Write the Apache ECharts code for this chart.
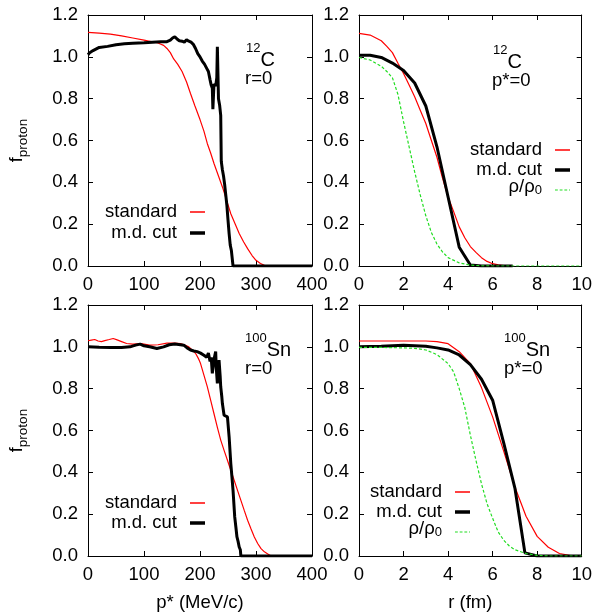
<!DOCTYPE html>
<html>
<head>
<meta charset="utf-8">
<script src="https://cdn.jsdelivr.net/npm/echarts@6/dist/echarts.min.js"></script>
<style>
html, body { margin: 0; padding: 0; background: #fff; }
#data_show { width: 595px; height: 616px; }
</style>
</head>
<body>
<div id="data_show"></div>
<script>
// tick values
var f_ticks = [0, 0.2, 0.4, 0.6, 0.8, 1.0, 1.2];
var p_ticks = [0, 100, 200, 300, 400];
var r_ticks = [0, 2, 4, 6, 8, 10];

// 12C, r=0 : f vs p* (MeV/c)
var c12_p_standard = [[0,1.117],[20,1.113],[40,1.109],[60,1.1],[80,1.09],[100,1.08],[115,1.072],[125,1.066],[135,1.055],[141,1.04],[147,1.02],[153,0.99],[160,0.965],[168,0.93],[176,0.88],[183,0.825],[191,0.765],[200,0.7],[207,0.645],[213,0.586],[219,0.54],[225,0.49],[233,0.43],[240,0.378],[248,0.31],[255,0.25],[263,0.2],[270,0.155],[278,0.115],[285,0.083],[293,0.05],[300,0.027],[308,0.012],[315,0.003],[320,0],[400,0]];
var c12_p_cut = [[0,1.01],[3,1.02],[9,1.03],[20,1.045],[35,1.05],[50,1.058],[65,1.062],[80,1.065],[100,1.067],[115,1.07],[130,1.072],[140,1.072],[147,1.08],[151,1.09],[155,1.096],[159,1.085],[163,1.077],[168,1.075],[172,1.07],[176,1.082],[180,1.075],[184,1.07],[188,1.06],[192,1.04],[196,1.015],[200,1.0],[204,0.98],[208,0.965],[212,0.945],[215,0.93],[218,0.89],[220,0.865],[222,0.85],[223,0.75],[225,0.87],[228,0.86],[230,0.9],[231,1.048],[233,0.8],[235,0.77],[237,0.72],[238,0.5],[240,0.46],[242,0.43],[244,0.39],[246,0.34],[248,0.29],[250,0.22],[252,0.155],[254,0.1],[256,0.075],[258,0.07],[259,0],[400,0]];

// 12C, p*=0 : f vs r (fm)
var c12_r_standard = [[0,1.112],[0.5,1.104],[1.0,1.077],[1.25,1.05],[1.5,1.02],[1.75,0.969],[2.0,0.92],[2.25,0.865],[2.5,0.809],[2.75,0.745],[3.0,0.681],[3.25,0.6],[3.5,0.52],[3.75,0.42],[4.0,0.33],[4.25,0.26],[4.5,0.187],[4.75,0.135],[5.0,0.093],[5.25,0.065],[5.5,0.04],[5.75,0.022],[6.0,0.011],[6.25,0.005],[6.5,0.002],[6.9,0]];
var c12_r_cut = [[0,1.008],[0.5,1.008],[1.0,0.997],[1.5,0.97],[2.0,0.935],[2.5,0.875],[3.0,0.765],[3.5,0.57],[4.0,0.33],[4.5,0.09],[5.0,0.005],[5.5,0],[6.9,0]];
var c12_r_rho = [[0,0.997],[0.5,0.985],[1.0,0.955],[1.25,0.93],[1.5,0.9],[1.75,0.82],[2.0,0.69],[2.25,0.57],[2.5,0.45],[2.75,0.34],[3.0,0.24],[3.25,0.16],[3.5,0.105],[3.75,0.067],[4.0,0.04],[4.5,0.015],[5.0,0.004],[5.5,0.001],[6,0],[10,0]];

// 100Sn, r=0 : f vs p* (MeV/c)
var sn_p_standard = [[0,1.029],[6,1.032],[12,1.035],[18,1.028],[24,1.025],[30,1.03],[38,1.035],[45,1.04],[52,1.033],[60,1.025],[69,1.016],[80,1.013],[95,1.015],[110,1.008],[125,1.01],[141,1.018],[155,1.018],[165,1.016],[173,1.008],[180,1.0],[186,0.985],[192,0.969],[197,0.945],[201,0.92],[207,0.865],[213,0.81],[219,0.745],[225,0.68],[231,0.615],[237,0.554],[243,0.505],[249,0.458],[255,0.41],[261,0.362],[267,0.314],[273,0.266],[279,0.218],[285,0.171],[291,0.13],[297,0.091],[303,0.06],[309,0.035],[315,0.02],[321,0.01],[327,0],[400,0]];
var sn_p_cut = [[0,1.0],[20,0.998],[40,0.997],[60,0.997],[75,1.0],[85,1.008],[93,1.013],[100,1.005],[110,1.0],[123,0.992],[135,1.0],[145,1.01],[155,1.013],[165,1.01],[171,1.008],[177,0.995],[183,0.985],[189,0.98],[195,0.977],[201,0.97],[207,0.96],[212,0.95],[215,0.97],[218,0.93],[220,0.95],[222,0.873],[225,0.94],[228,0.977],[229,0.9],[231,0.825],[233,0.88],[234,0.937],[236,0.86],[237,0.809],[239,0.76],[240,0.729],[243,0.673],[246,0.67],[249,0.665],[252,0.57],[255,0.442],[257,0.38],[259,0.314],[262,0.187],[264,0.14],[266,0.091],[268,0.07],[270,0.043],[272,0.03],[273,0],[400,0]];

// 100Sn, p*=0 : f vs r (fm)
var sn_r_standard = [[0,1.028],[1,1.028],[2,1.028],[3,1.028],[3.5,1.025],[4.0,1.015],[4.5,0.977],[5.0,0.92],[5.5,0.805],[6.0,0.665],[6.5,0.5],[7.0,0.33],[7.5,0.19],[8.0,0.094],[8.5,0.042],[9.0,0.012],[9.5,0.002],[10,0]];
var sn_r_cut = [[0,1.0],[1,1.003],[2,1.008],[3,1.003],[3.5,0.995],[4,0.985],[4.5,0.961],[5,0.915],[5.5,0.845],[6,0.745],[6.5,0.54],[7,0.325],[7.45,0.015],[7.5,0.01],[8,0],[10,0]];
var sn_r_rho = [[0,0.997],[1,0.997],[2,0.995],[2.5,0.993],[3,0.985],[3.5,0.963],[4,0.92],[4.25,0.88],[4.5,0.8],[4.75,0.71],[5,0.578],[5.25,0.458],[5.5,0.345],[5.75,0.25],[6,0.18],[6.25,0.115],[6.5,0.075],[6.75,0.048],[7,0.03],[7.5,0.012],[8,0.003],[8.5,0],[10,0]];

var font = 'Liberation Sans';
var fsize = 18.5;
var panels = [
	{ left: 88, top: 15, ticks: p_ticks, xname: '' },
	{ left: 359, top: 15, ticks: r_ticks, xname: '' },
	{ left: 88, top: 305, ticks: p_ticks, xname: 'p* (MeV/c)' },
	{ left: 359, top: 305, ticks: r_ticks, xname: 'r (fm)' }
];

var grids = [], xAxes = [], yAxes = [];
panels.forEach(function(pn, i){
	grids.push({ left: pn.left, top: pn.top, width: 224, height: 251 });
	var base_line = { show: true, onZero: false, lineStyle: { color: '#000', width: 1 } };
	var base_tick = { show: true, inside: true, length: 5, lineStyle: { color: '#000' } };
	var xmin = pn.ticks[0], xmax = pn.ticks[pn.ticks.length - 1];
	xAxes.push({
		gridIndex: i, type: 'value', position: 'bottom',
		min: xmin, max: xmax, interval: pn.ticks[1] - pn.ticks[0],
		axisLine: base_line, axisTick: base_tick, splitLine: { show: false },
		axisLabel: { color: '#000', fontFamily: font, fontSize: fsize, margin: 9 },
		name: pn.xname, nameLocation: 'middle', nameGap: 37,
		nameTextStyle: { color: '#000', fontFamily: font, fontSize: fsize }
	});
	xAxes.push({
		gridIndex: i, type: 'value', position: 'top',
		min: xmin, max: xmax, interval: pn.ticks[1] - pn.ticks[0],
		axisLine: base_line, axisTick: base_tick, splitLine: { show: false },
		axisLabel: { show: false }
	});
	yAxes.push({
		gridIndex: i, type: 'value', position: 'left',
		min: f_ticks[0], max: f_ticks[f_ticks.length - 1], interval: 0.2,
		axisLine: base_line, axisTick: base_tick, splitLine: { show: false },
		axisLabel: { color: '#000', fontFamily: font, fontSize: fsize, margin: 10,
			formatter: function(v){ return v.toFixed(1); } },
		name: i % 2 == 0 ? '{f|f}{p|proton}' : '', nameLocation: 'middle', nameGap: 50,
		nameTextStyle: { color: '#000', fontFamily: font,
			rich: {
				f: { fontSize: 18, lineHeight: 18, verticalAlign: 'top', fontFamily: font, color: '#000' },
				p: { fontSize: 13.5, lineHeight: 30, verticalAlign: 'middle', fontFamily: font, color: '#000' }
			}
		}
	});
	yAxes.push({
		gridIndex: i, type: 'value', position: 'right',
		min: f_ticks[0], max: f_ticks[f_ticks.length - 1], interval: 0.2,
		axisLine: base_line, axisTick: base_tick, splitLine: { show: false },
		axisLabel: { show: false }
	});
});

function make_series(name, data, i){
	var s = {
		name: name, type: 'line', data: data, symbol: 'none',
		xAxisIndex: 2 * i, yAxisIndex: 2 * i, animation: false
	};
	if(name == 'standard'){
		s.lineStyle = { color: '#ff0000', width: 1.2 };
		s.itemStyle = { color: '#ff0000' };
	}else if(name == 'm.d. cut'){
		s.lineStyle = { color: '#000000', width: 3 };
		s.itemStyle = { color: '#000000' };
	}else{
		s.lineStyle = { color: '#22dd22', width: 1.2, type: [3, 2] };
		s.itemStyle = { color: '#22dd22' };
	}
	return s;
}

var series = [
	make_series('standard', c12_p_standard, 0),
	make_series('m.d. cut', c12_p_cut, 0),
	make_series('standard', c12_r_standard, 1),
	make_series('m.d. cut', c12_r_cut, 1),
	make_series('ρ/ρ0', c12_r_rho, 1),
	make_series('standard', sn_p_standard, 2),
	make_series('m.d. cut', sn_p_cut, 2),
	make_series('standard', sn_r_standard, 3),
	make_series('m.d. cut', sn_r_cut, 3),
	make_series('ρ/ρ0', sn_r_rho, 3)
];

// one legend per entry so that every text is right aligned against its sample
var legend_icon = {
	'standard': { icon: 'rect', h: 1.5 },
	'm.d. cut': { icon: 'rect', h: 3.5 },
	'ρ/ρ0': { icon: 'path://M0,0h3v1h-3z M5,0h3v1h-3z M10,0h3v1h-3z M15,0h1v1h-1z', h: 1.5 }
};
function legend_item(name, right, top){
	return {
		data: [{ name: name, icon: legend_icon[name].icon }],
		right: right, top: top, orient: 'vertical', align: 'right',
		itemWidth: 15, itemHeight: legend_icon[name].h, padding: 0, selectedMode: false,
		textStyle: {
			color: '#000', fontFamily: font, fontSize: fsize, lineHeight: 20, padding: [0, 8, 0, 0],
			rich: {
				a: { fontSize: fsize, lineHeight: 16, verticalAlign: 'top', fontFamily: font, color: '#000' },
				b: { fontSize: 13, lineHeight: 26, verticalAlign: 'middle', fontFamily: font, color: '#000' }
			}
		},
		formatter: function(n){
			if(n == 'ρ/ρ0') return '{a|ρ/ρ}{b|0}';
			return n;
		}
	};
}

var legends = [
	legend_item('standard', 390, 202),
	legend_item('m.d. cut', 390, 223),
	legend_item('standard', 25, 140),
	legend_item('m.d. cut', 25, 160),
	legend_item('ρ/ρ0', 25, 177),
	legend_item('standard', 390, 493),
	legend_item('m.d. cut', 390, 513),
	legend_item('standard', 125, 482),
	legend_item('m.d. cut', 125, 502),
	legend_item('ρ/ρ0', 125, 519)
];

function label(text, left, top){
	return {
		text: text, left: left, top: top, padding: 0,
		textStyle: {
			color: '#000', fontFamily: font, fontSize: fsize, fontWeight: 'normal', lineHeight: 20,
			rich: {
				s: { fontSize: 13, lineHeight: 12, verticalAlign: 'top', fontFamily: font, color: '#000' },
				m: { fontSize: 20, lineHeight: 28, verticalAlign: 'bottom', fontFamily: font, color: '#000' }
			}
		}
	};
}

var titles = [
	label('{s|12}{m|C}', 246, 42),
	label('r=0', 245, 69),
	label('{s|12}{m|C}', 493, 44),
	label('p*=0', 492, 71),
	label('{s|100}{m|Sn}', 245, 332),
	label('r=0', 245, 359),
	label('{s|100}{m|Sn}', 504, 332),
	label('p*=0', 504, 359)
];

var chart = echarts.init(document.getElementById('data_show'));
var option = {
	backgroundColor: '#fff',
	animation: false,
	title: titles,
	legend: legends,
	grid: grids,
	xAxis: xAxes,
	yAxis: yAxes,
	series: series
};
chart.setOption(option);
</script>
</body>
</html>
